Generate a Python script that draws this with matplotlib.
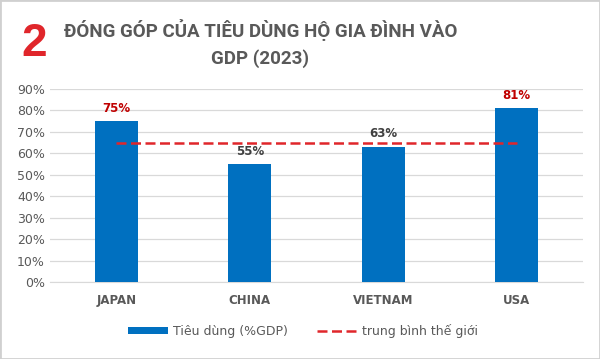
import matplotlib.pyplot as plt
from matplotlib.patches import Rectangle
from matplotlib.ticker import PercentFormatter

countries = ["JAPAN", "CHINA", "VIETNAM", "USA"]
consumption = [75, 55, 63, 81]
world_avg = [65, 65, 65, 65]
label_colors = ["#c00000", "#404040", "#404040", "#c00000"]

fig = plt.figure(figsize=(6.0, 3.59), dpi=100, facecolor="white")
fig.patches.append(Rectangle((0, 0), 1, 1, transform=fig.transFigure,
                             fill=False, edgecolor="#d0d0d0", linewidth=2))

ax = fig.add_axes([0.083, 0.2145, 0.889, 0.5375])
x = range(len(countries))
bars = ax.bar(x, consumption, width=0.32, color="#0070c0", zorder=3,
              label="Tiêu dùng (%GDP)")
avg_line, = ax.plot(x, world_avg, color="#e0262b", linestyle=(0, (4, 1.8)),
                    linewidth=1.8, zorder=4, label="trung bình thế giới")

for xi, v, c in zip(x, consumption, label_colors):
    ax.text(xi, v + 3, f"{v}%", ha="center", va="bottom", fontsize=8.5,
            fontweight="bold", color=c, family="DejaVu Sans")

ax.set_xlim(-0.5, 3.5)
ax.set_ylim(0, 90)
ax.set_yticks(range(0, 91, 10))
ax.yaxis.set_major_formatter(PercentFormatter(decimals=0))
ax.grid(axis="y", color="#d9d9d9", linewidth=0.9, zorder=0)
for s in ["top", "right", "left"]:
    ax.spines[s].set_visible(False)
ax.spines["bottom"].set_color("#d9d9d9")
ax.tick_params(axis="both", length=0, colors="#595959", labelsize=9)
ax.tick_params(axis="x", pad=9)
ax.set_xticks(list(x))
ax.set_xticklabels(countries, fontweight="bold", fontsize=8.5)

fig.legend([bars, avg_line], ["Tiêu dùng (%GDP)", "trung bình thế giới"],
           loc="center", bbox_to_anchor=(0.505, 0.078), ncol=2, frameon=False,
           fontsize=9, labelcolor="#595959", handlelength=3.2, handleheight=0.5,
           columnspacing=2.4, handletextpad=0.4)

fig.text(0.057, 0.877, "2", color="#e0262b", fontsize=33, fontweight="bold",
         ha="center", va="center", family="Liberation Sans")
title_font = ["Liberation Sans Narrow", "Roboto", "DejaVu Sans"]
fig.text(0.434, 0.916, "ĐÓNG GÓP CỦA TIÊU DÙNG HỘ GIA ĐÌNH VÀO", color="#595959",
         fontsize=13.5, fontweight="bold", ha="center", va="center",
         family=title_font)
fig.text(0.434, 0.838, "GDP (2023)", color="#595959",
         fontsize=13.5, fontweight="bold", ha="center", va="center",
         family=title_font)

fig.savefig("out.png", dpi=100, facecolor="white")
